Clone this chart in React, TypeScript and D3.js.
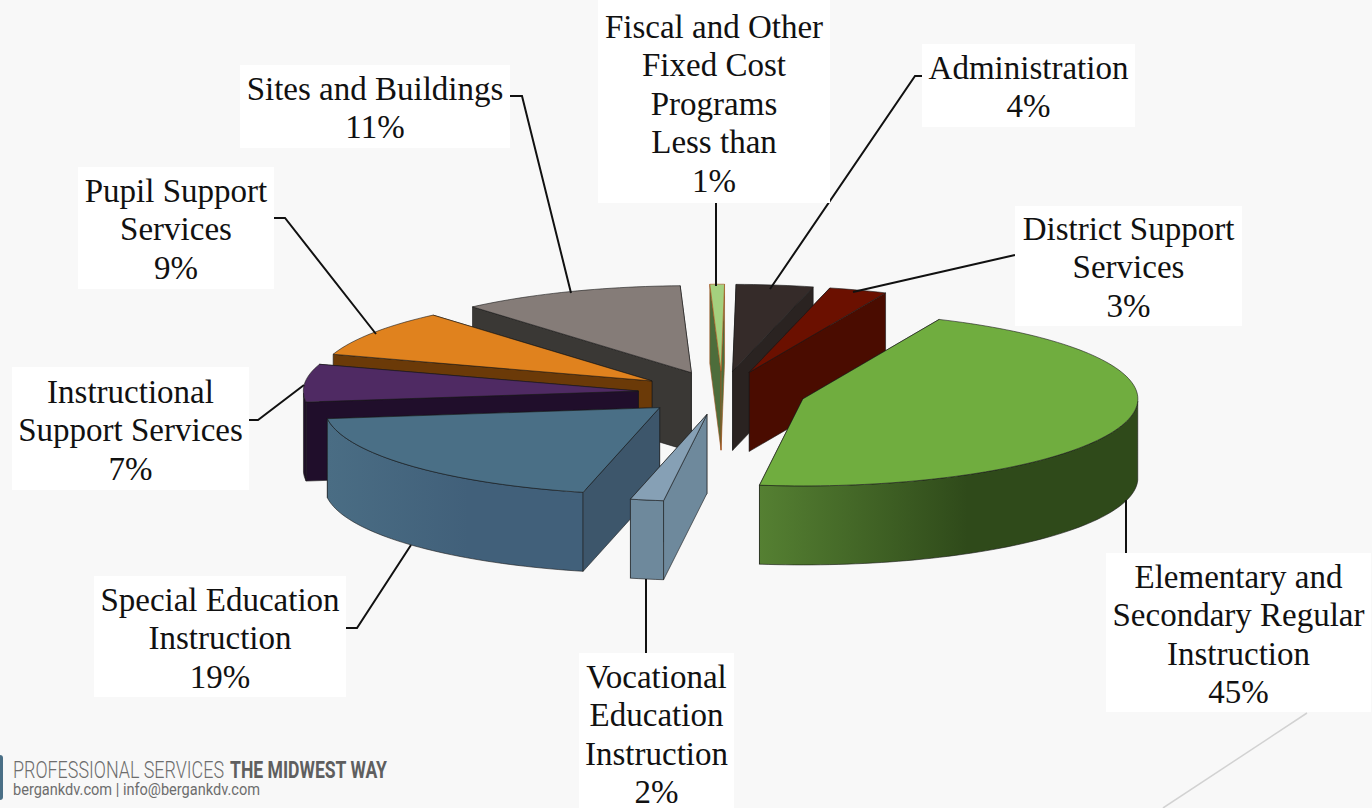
import React from 'react';
import * as d3 from 'd3';

const W = 1372;
const H = 808;

// slices, clockwise from the green one (printed labels are the rounded values)
const names = [
  'Elementary', 'Vocational', 'Special', 'Instructional', 'Pupil',
  'Sites', 'Fiscal', 'Administration', 'District',
];
const shares = [45.4, 1.6, 19.3, 7, 8.7, 10.8, 0.7, 3.7, 2.8];
const topColors = ['#70ad3f', '#86a0b5', '#4a6f86', '#4f2a63', '#e0821e', '#857c78', '#a4d07e', '#352b29', '#6b1000'];
const sideColors = ['#3a5a20', '#6e899c', '#3d566b', '#200e2b', '#6b3a08', '#3a3835', '#4d6d3b', '#2a2321', '#4a0c00'];
const arcLight = ['#558032', '#6e899c', '#4a6d84', '#200e2b', '#6b3a08', '#3a3835', '#4d6d3b', '#2a2321', '#4a0c00'];
const arcDark = ['#2f4a1a', '#6e899c', '#41607a', '#200e2b', '#6b3a08', '#3a3835', '#4d6d3b', '#2a2321', '#4a0c00'];
const edgeColors = ['#1a1a1a', '#1a1a1a', '#1a1a1a', '#1a1a1a', '#1a1a1a', '#1a1a1a', '#a5531c', '#1a1a1a', '#1a1a1a'];

const labelLines = [
  ['Elementary and', 'Secondary Regular', 'Instruction', '45%'],
  ['Vocational', 'Education', 'Instruction', '2%'],
  ['Special Education', 'Instruction', '19%'],
  ['Instructional', 'Support Services', '7%'],
  ['Pupil Support', 'Services', '9%'],
  ['Sites and Buildings', '11%'],
  ['Fiscal and Other', 'Fixed Cost', 'Programs', 'Less than', '1%'],
  ['Administration', '4%'],
  ['District Support', 'Services', '3%'],
];

// label boxes [x0, y0, x1, y1], first baseline, leader polyline
const boxes = [
  [1106, 553, 1371, 712],
  [579, 653, 734, 808],
  [94, 576, 346, 697],
  [12, 367, 249, 490],
  [78, 167, 274, 289],
  [240, 65, 510, 148],
  [598, 0, 830, 203],
  [922, 44, 1135, 127],
  [1015, 206, 1242, 326],
];
const firstBaseline = [588, 688, 611, 403, 202, 100, 38, 79, 240];
const leaders = [
  [[1126, 553], [1126, 500]],
  [[646, 653], [646, 579]],
  [[346, 628], [357, 628], [411, 545]],
  [[249, 420], [258, 420], [304, 385]],
  [[274, 218], [285, 218], [376, 334]],
  [[510, 96], [522, 96], [571, 293]],
  [[716, 203], [716, 286]],
  [[922, 76], [915, 76], [770, 289]],
  [[1015, 255], [853, 292]],
];

// pie projection
const cx = 722;
const cy = 393;
const rx = 335;
const ry = 87;
const explode = 84;
const depth = 79;
const startDeg = 24;
const lineSpacing = 38.4;

const rad = Math.PI / 180;
const pie = d3.pie<number>().sort(null).startAngle(startDeg * rad).endAngle((startDeg + 360) * rad);
const arcs = pie(shares);

const line = d3.line();
const poly = (pts: [number, number][]) => line(pts) + 'Z';

function buildSlice(a: d3.PieArcDatum<number>, i: number) {
  const mid = (a.startAngle + a.endAngle) / 2;
  const ax = cx + Math.sin(mid) * explode;
  const ay = cy - (Math.cos(mid) * explode * ry) / rx;
  const pt = (t: number, dy = 0): [number, number] => [ax + Math.sin(t) * rx, ay - Math.cos(t) * ry + dy];
  const steps = Math.max(2, Math.ceil((a.endAngle - a.startAngle) / (1.5 * rad)));
  const ts = d3.range(steps + 1).map(k => a.startAngle + ((a.endAngle - a.startAngle) * k) / steps);

  const top = poly([[ax, ay], ...ts.map(t => pt(t))]);

  const wall = (t: number) =>
    poly([[ax, ay], pt(t), pt(t, depth), [ax, ay + depth]]);
  // a radial wall faces us when its outward normal points down the screen
  const startVisible = Math.sin(a.startAngle) < 0;
  const endVisible = Math.sin(a.endAngle) > 0;
  const hidden = [!startVisible ? a.startAngle : null, !endVisible ? a.endAngle : null].filter(t => t !== null) as number[];
  const shown = [startVisible ? a.startAngle : null, endVisible ? a.endAngle : null].filter(t => t !== null) as number[];

  // outer wall only where the rim faces us
  const fronts = ts.filter(t => Math.cos(t) <= 0);
  const outer = fronts.length > 1
    ? poly([...fronts.map(t => pt(t)), ...fronts.slice().reverse().map(t => pt(t, depth))])
    : null;
  const xs = fronts.map(t => pt(t)[0]);

  return {
    i,
    mid,
    top,
    hiddenWalls: hidden.map(wall),
    shownWalls: shown.map(wall),
    outer,
    x0: d3.min(xs) ?? 0,
    x1: d3.max(xs) ?? 1,
  };
}

// painter's order, back of the pie first
const slices = d3.sort(arcs.map(buildSlice), s => -Math.cos(s.mid));

const edge = (i: number) => ({
  stroke: edgeColors[i],
  strokeOpacity: 0.75,
  strokeWidth: 0.8,
  strokeLinejoin: 'round' as const,
});
const serif = '"Liberation Serif", serif';

export default function App() {
  return (
    <svg width={W} height={H} viewBox={`0 0 ${W} ${H}`} style={{ position: 'absolute', left: 0, top: 0 }}>
      <defs>
        {slices.map(s => (
          <linearGradient key={s.i} id={`wall${s.i}`} gradientUnits="userSpaceOnUse" x1={s.x0} x2={s.x1} y1={0} y2={0}>
            <stop offset="0" stopColor={arcLight[s.i]} />
            <stop offset="0.55" stopColor={arcDark[s.i]} />
            <stop offset="1" stopColor={arcDark[s.i]} />
          </linearGradient>
        ))}
      </defs>
      <rect width={W} height={H} fill="#f8f8f8" />

      <line x1={1307} y1={713} x2={1163} y2={808} stroke="#d2d2d2" strokeWidth={1.5} />

      {slices.map(s => (
        <g key={names[s.i]}>
          {s.hiddenWalls.map((d, k) => <path key={k} d={d} fill={sideColors[s.i]} {...edge(s.i)} />)}
          {s.outer && <path d={s.outer} fill={`url(#wall${s.i})`} {...edge(s.i)} />}
          {s.shownWalls.map((d, k) => <path key={k} d={d} fill={sideColors[s.i]} {...edge(s.i)} />)}
          <path d={s.top} fill={topColors[s.i]} {...edge(s.i)} />
        </g>
      ))}

      {leaders.map((pts, i) => (
        <path key={i} d={d3.line()(pts as [number, number][]) as string} fill="none" stroke="#111" strokeWidth={2} />
      ))}

      {boxes.map(([x0, y0, x1, y1], i) => (
        <g key={i}>
          <rect x={x0} y={y0} width={x1 - x0} height={y1 - y0} fill="#fff" />
          <text textAnchor="middle" fontFamily={serif} fontSize={33} fill="#111">
            {labelLines[i].map((t, k) => (
              <tspan key={k} x={(x0 + x1) / 2} y={firstBaseline[i] + k * lineSpacing}>{t}</tspan>
            ))}
          </text>
        </g>
      ))}

      <rect x={-6} y={755} width={9} height={45} rx={3} fill="#4a6f86" />
      <text x={13} y={778} fontFamily="Roboto, sans-serif" fontWeight={300} fontSize={23} fill="#6d6d6d" textLength={211} lengthAdjust="spacingAndGlyphs">PROFESSIONAL SERVICES</text>
      <text x={230} y={778} fontFamily="Roboto, sans-serif" fontWeight={700} fontSize={23} fill="#5f5f5f" textLength={157} lengthAdjust="spacingAndGlyphs">THE MIDWEST WAY</text>
      <text x={13} y={795} fontFamily="Roboto, sans-serif" fontSize={16} fill="#6d6d6d" textLength={247} lengthAdjust="spacingAndGlyphs">bergankdv.com | info@bergankdv.com</text>
    </svg>
  );
}
